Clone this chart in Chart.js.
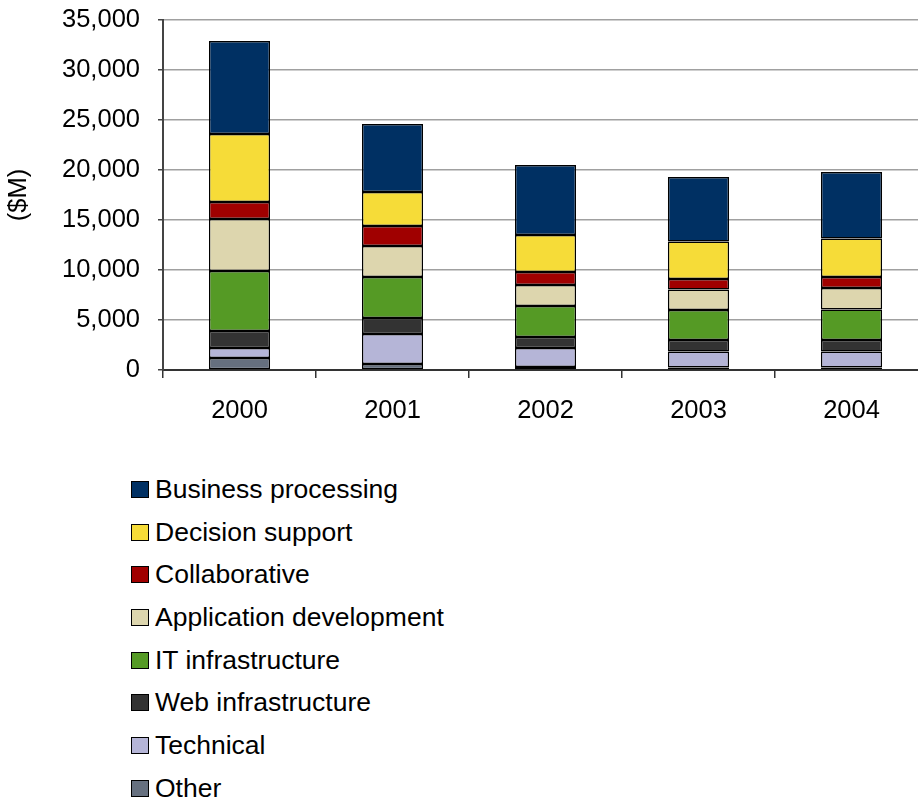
<!DOCTYPE html>
<html>
<head>
<meta charset="utf-8">
<script src="https://cdn.jsdelivr.net/npm/chart.js@4"></script>
<style>
  html, body { margin: 0; padding: 0; background: #fff; overflow: hidden; }
  #wrap { position: relative; width: 918px; height: 799px; }
  #canvas-chart { position: absolute; left: 0; top: 0; }
  #legenda { position: absolute; left: 131px; top: 468px; font-family: "Liberation Sans", Arial, sans-serif; font-size: 26.5px; color: #000; }
  .item { display: flex; align-items: center; height: 42.7px; }
  .caixa { width: 18px; height: 17px; box-sizing: border-box; border: 1.5px solid #000; margin-right: 6px; }
</style>
</head>
<body>
<div id="wrap">
  <canvas id="canvas-chart" width="928" height="440" style="width:928px;height:440px"></canvas>
  <div id="legenda"></div>
</div>
<script>
// dados ($M), de baixo para cima na pilha
const anos = ['2000', '2001', '2002', '2003', '2004'];

const other        = [1200,  600,  300,  250,  250];
const technical    = [1000, 3000, 1900, 1600, 1600];
const webInfra     = [1700, 1600, 1100, 1150, 1150];
const itInfra      = [6000, 4100, 3100, 3000, 3050];
const appDev       = [5200, 3100, 2100, 2050, 2150];
const collab       = [1700, 2000, 1300, 1050, 1100];
const decision     = [6800, 3400, 3700, 3750, 3850];
const business     = [9300, 6800, 7000, 6450, 6650];

const yTicks = [0, 5000, 10000, 15000, 20000, 25000, 30000, 35000];

const series = [
  { label: 'Other', data: other, cor: '#66707f' },
  { label: 'Technical', data: technical, cor: '#b5b5d7' },
  { label: 'Web infrastructure', data: webInfra, cor: '#333333' },
  { label: 'IT infrastructure', data: itInfra, cor: '#559a25' },
  { label: 'Application development', data: appDev, cor: '#ddd6ae' },
  { label: 'Collaborative', data: collab, cor: '#a00000' },
  { label: 'Decision support', data: decision, cor: '#f6dc38' },
  { label: 'Business processing', data: business, cor: '#003063' }
];

const fonte = '"Liberation Sans", Arial, sans-serif';

const datasets = series.map(s => ({
  label: s.label,
  data: s.data,
  backgroundColor: s.cor,
  borderColor: '#000',
  borderWidth: 1.5,
  borderSkipped: false,
  barPercentage: 0.8,
  categoryPercentage: 0.5
}));

const ctx = document.getElementById('canvas-chart').getContext('2d');
new Chart(ctx, {
  type: 'bar',
  data: { labels: anos, datasets },
  options: {
    responsive: false,
    animation: false,
    layout: { padding: { top: 20, right: 0, left: 0, bottom: 0 } },
    plugins: { legend: { display: false }, tooltip: { enabled: false } },
    scales: {
      x: {
        stacked: true,
        afterFit: s => { s.height = 70; s.paddingLeft = 0; s.paddingRight = 0; },
        border: { color: '#333', width: 2 },
        grid: { display: true, drawOnChartArea: false, offset: true, tickLength: 8, color: '#333', lineWidth: 1.5 },
        ticks: { color: '#000', padding: 18, font: { family: fonte, size: 25.5 } }
      },
      y: {
        stacked: true,
        min: 0,
        max: 35000,
        afterFit: s => { s.width = 163; s.paddingTop = 0; s.paddingBottom = 0; },
        afterBuildTicks: s => { s.ticks = yTicks.map(v => ({ value: v })); },
        border: { color: '#444', width: 2 },
        grid: { color: '#a0a0a0', lineWidth: 1.5, tickLength: 5, tickColor: '#444' },
        ticks: {
          color: '#000', padding: 18,
          font: { family: fonte, size: 25.5 },
          callback: v => v.toLocaleString('en-US')
        },
        title: { display: true, text: '($M)', color: '#000', padding: { top: 4, bottom: 4 }, font: { family: fonte, size: 25.5 } }
      }
    }
  }
});

// legenda em coluna, de cima (Business) para baixo (Other)
const leg = document.getElementById('legenda');
series.slice().reverse().forEach(s => {
  const item = document.createElement('div');
  item.className = 'item';
  item.innerHTML = '<span class="caixa" style="background:' + s.cor + '"></span><span>' + s.label + '</span>';
  leg.appendChild(item);
});
</script>
</body>
</html>
